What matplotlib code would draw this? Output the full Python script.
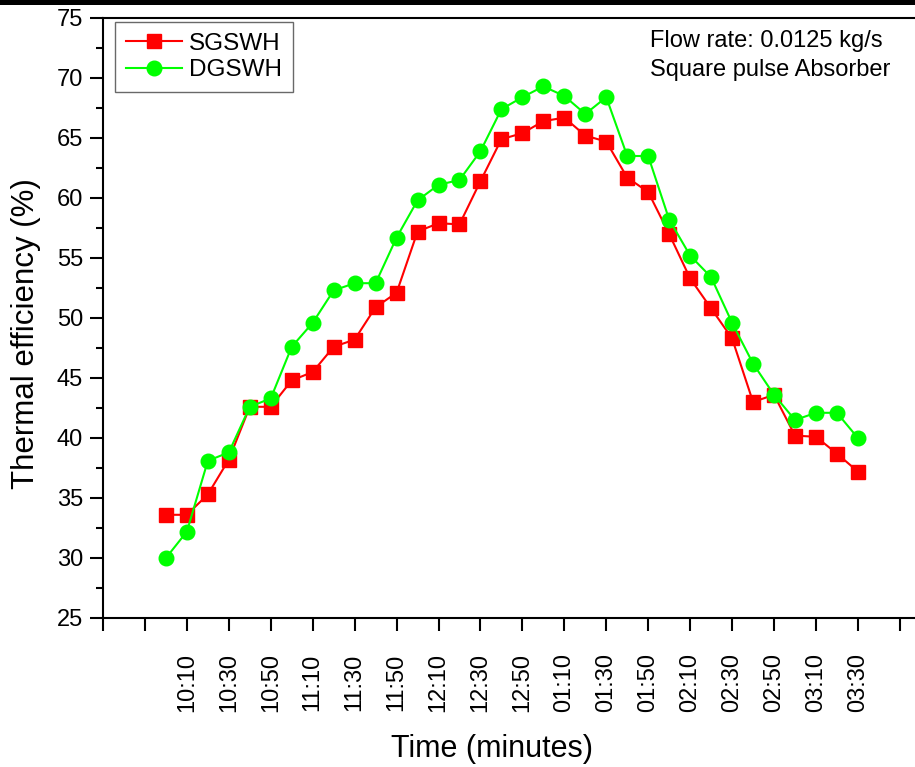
import matplotlib
matplotlib.use("Agg")
import matplotlib.pyplot as plt
from matplotlib.ticker import MultipleLocator
from matplotlib.patches import Rectangle

plt.rcParams['font.family'] = ['Liberation Sans', 'DejaVu Sans']

# minutes after 10:00
times = list(range(0, 340, 10))
sgswh = [33.6, 33.6, 35.3, 38.2, 42.6, 42.6, 44.8, 45.5, 47.6, 48.2,
         50.9, 52.1, 57.2, 57.9, 57.8, 61.4, 64.9, 65.4, 66.4, 66.7,
         65.2, 64.7, 61.7, 60.5, 57.0, 53.3, 50.8, 48.3, 43.0, 43.6,
         40.2, 40.1, 38.7, 37.2]
dgswh = [30.0, 32.2, 38.1, 38.8, 42.6, 43.3, 47.6, 49.6, 52.3, 52.9,
         52.9, 56.7, 59.8, 61.1, 61.5, 63.9, 67.4, 68.4, 69.3, 68.5,
         67.0, 68.4, 63.5, 63.5, 58.2, 55.2, 53.4, 49.6, 46.2, 43.6,
         41.5, 42.1, 42.1, 40.0]
tick_pos = list(range(-30, 360, 20))
tick_labels = ['', '', '10:10', '10:30', '10:50', '11:10', '11:30', '11:50',
               '12:10', '12:30', '12:50', '01:10', '01:30', '01:50', '02:10',
               '02:30', '02:50', '03:10', '03:30', '']

W, H = 915, 767
fig = plt.figure(figsize=(W/100, H/100), dpi=100)
ax = fig.add_axes([103/W, 149/H, (925-103)/W, (618-18)/H])

ax.plot(times, sgswh, color='#FF0000', marker='s', markersize=9.5, lw=1.5,
        label='SGSWH', zorder=3)
ax.plot(times, dgswh, color='#00FF00', marker='o', markersize=10.5, lw=1.5,
        label='DGSWH', zorder=4)

ax.set_xlim(-30, 362)
ax.set_ylim(25, 75)
ax.yaxis.set_major_locator(MultipleLocator(5))
ax.yaxis.set_minor_locator(MultipleLocator(2.5))
ax.set_xticks(tick_pos)
ax.set_xticklabels(tick_labels, rotation=90)
ax.tick_params(axis='both', which='major', direction='out', length=9.5, width=1.5,
               labelsize=17)
ax.tick_params(axis='y', which='major', pad=5)
ax.tick_params(axis='x', which='major', pad=16)
ax.tick_params(axis='y', which='minor', direction='out', length=5, width=1.5)
for s in ['left', 'bottom', 'top']:
    ax.spines[s].set_linewidth(1.5)
ax.spines['right'].set_visible(False)

fig.text(26/W, 1 - 334/H, 'Thermal efficiency (%)', fontsize=22.5,
         rotation=90, ha='center', va='center')
fig.text(492/W, 1 - 749/H, 'Time (minutes)', fontsize=22,
         ha='center', va='center')

leg = ax.legend(loc='upper left', bbox_to_anchor=(115/W, 1 - 22/H),
                bbox_transform=fig.transFigure, fontsize=17.5,
                frameon=True, fancybox=False, edgecolor='#444444',
                handlelength=2.3, borderpad=0.45, labelspacing=0.17,
                handletextpad=0.3, borderaxespad=0)
leg.get_frame().set_linewidth(1.0)

fig.text(650/W, 1 - 30/H, 'Flow rate: 0.0125 kg/s\nSquare pulse Absorber',
         fontsize=17, va='top', ha='left', linespacing=1.42)

fig.patches.append(Rectangle((0, 1 - 5/H), 1, 5/H, transform=fig.transFigure,
                             facecolor='black', edgecolor='none'))

fig.savefig('out.png', dpi=100)
